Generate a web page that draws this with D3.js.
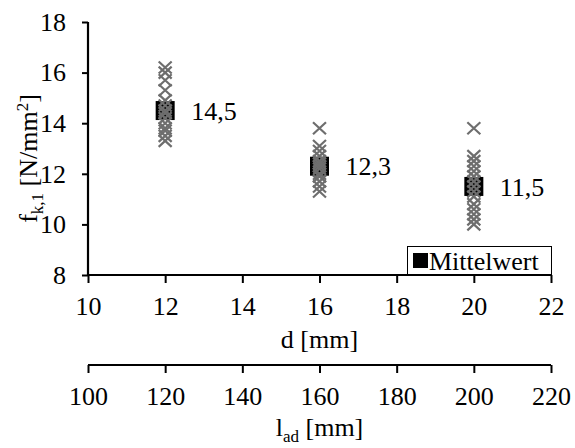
<!DOCTYPE html>
<html>
<head>
<meta charset="utf-8">
<script src="https://cdn.jsdelivr.net/npm/d3@7"></script>
<style>
  body { margin: 0; background: #fff; }
  svg text, svg tspan { font-family: 'Liberation Serif' !important; }
</style>
</head>
<body>
<div id="chart"></div>
<script>
// diameters and single test values
const diameters = [12, 16, 20];
const values12 = [16.2, 16.0, 15.7, 15.3, 14.9, 14.7, 14.5, 14.4, 14.2, 14.0, 13.8, 13.7, 13.5, 13.3];
const values16 = [13.8, 13.1, 12.9, 12.7, 12.5, 12.4, 12.3, 12.2, 12.0, 11.9, 11.7, 11.5, 11.3];
const values20 = [13.8, 12.7, 12.5, 12.3, 12.1, 11.9, 11.7, 11.5, 11.3, 11.1, 10.8, 10.6, 10.4, 10.2, 10.0];
const means = [14.5, 12.3, 11.5];
const meanLabels = ["14,5", "12,3", "11,5"];
const dTicks = [10, 12, 14, 16, 18, 20, 22];
const yTicks = [8, 10, 12, 14, 16, 18];
const ladTicks = [100, 120, 140, 160, 180, 200, 220];

const width = 575, height = 448;
const plotLeft = 88, plotRight = 551, plotTop = 22, plotBottom = 275;
const fs = 26;
const serif = "'Liberation Serif'";

const svg = d3.select("#chart").append("svg")
    .attr("width", width)
    .attr("height", height)
    .style("font-family", serif);

const x = d3.scaleLinear().domain([10, 22]).range([plotLeft, plotRight]);
const y = d3.scaleLinear().domain([8, 18]).range([plotBottom, plotTop]);
const xLad = d3.scaleLinear().domain([100, 220]).range([plotLeft, plotRight]);

// mean squares (drawn below the single values)
svg.append("g").selectAll("rect")
    .data(diameters)
    .enter().append("rect")
    .attr("x", (d, i) => x(d) - 9.5)
    .attr("y", (d, i) => y(means[i]) - 9.5)
    .attr("width", 19)
    .attr("height", 19)
    .attr("fill", "#000");

// single values as x markers
const series = [values12, values16, values20];
const pts = [];
series.forEach((vals, i) => vals.forEach(v => pts.push([diameters[i], v])));

svg.append("g").selectAll("path")
    .data(pts)
    .enter().append("path")
    .attr("d", d => {
        const cx = x(d[0]), cy = y(d[1]), w = 6.5, h = 6;
        return `M${cx - w},${cy - h}L${cx + w},${cy + h}M${cx - w},${cy + h}L${cx + w},${cy - h}`;
    })
    .attr("stroke", "#6e6e6e")
    .attr("stroke-width", 2.2)
    .attr("fill", "none");

// mean labels
svg.append("g").selectAll("text")
    .data(diameters)
    .enter().append("text")
    .style("font-family", serif)
    .attr("x", d => x(d) + 26)
    .attr("y", (d, i) => y(means[i]))
    .attr("dy", "0.35em")
    .attr("font-size", fs)
    .text((d, i) => meanLabels[i]);

// legend
const lg = svg.append("g");
lg.append("rect")
    .attr("x", 407.5).attr("y", 246.5)
    .attr("width", 144).attr("height", 29)
    .attr("fill", "#fff").attr("stroke", "#000").attr("stroke-width", 1);
lg.append("rect")
    .attr("x", 413).attr("y", 253).attr("width", 15).attr("height", 15)
    .attr("fill", "#000");
lg.append("text")
    .style("font-family", serif)
    .attr("x", 429).attr("y", 270)
    .attr("font-size", fs)
    .text("Mittelwert");

// y axis
const yAxis = svg.append("g")
    .attr("transform", `translate(${plotLeft},0)`)
    .call(d3.axisLeft(y).tickValues(yTicks).tickSize(6).tickPadding(16));

// bottom d axis
const xAxis = svg.append("g")
    .attr("transform", `translate(0,${plotBottom})`)
    .call(d3.axisBottom(x).tickValues(dTicks).tickSize(8).tickPadding(14));

// second axis l_ad
const ladAxis = svg.append("g")
    .attr("transform", `translate(0,365)`)
    .call(d3.axisBottom(xLad).tickValues(ladTicks).tickSize(8).tickPadding(14));

[yAxis, xAxis, ladAxis].forEach(a => {
    a.attr("font-size", fs).attr("font-family", null).style("font-family", serif);
    a.select(".domain").attr("stroke", "#000").attr("stroke-width", 2.2);
    a.selectAll(".tick line").attr("stroke", "#000").attr("stroke-width", 2);
    a.selectAll(".tick text").attr("fill", "#000").style("font-family", serif);
});
xAxis.select(".domain").attr("d", `M${plotLeft},0H${plotRight}`);
ladAxis.select(".domain").attr("d", `M${plotLeft},0H${plotRight}`);
yAxis.select(".domain").attr("d", `M0,${plotBottom}V${plotTop}`);

// axis titles
svg.append("text")
    .style("font-family", serif)
    .attr("x", x(16)).attr("y", 348)
    .attr("text-anchor", "middle")
    .attr("font-size", fs)
    .text("d [mm]");

const ladTitle = svg.append("text")
    .style("font-family", serif)
    .attr("x", x(16)).attr("y", 436)
    .attr("text-anchor", "middle")
    .attr("font-size", fs);
ladTitle.append("tspan").text("l");
ladTitle.append("tspan").attr("font-size", 17).attr("dy", 6).text("ad");
ladTitle.append("tspan").attr("dy", -6).text(" [mm]");

const yTitle = svg.append("text")
    .style("font-family", serif)
    .attr("transform", `translate(37,${(plotTop + plotBottom) / 2 + 10}) rotate(-90)`)
    .attr("text-anchor", "middle")
    .attr("font-size", fs);
yTitle.append("tspan").text("f");
yTitle.append("tspan").attr("font-size", 17).attr("dy", 6).text("k,1");
yTitle.append("tspan").attr("dy", -6).text(" [N/mm");
yTitle.append("tspan").attr("font-size", 17).attr("dy", -9).text("2");
yTitle.append("tspan").attr("dy", 9).text("]");
</script>
</body>
</html>
